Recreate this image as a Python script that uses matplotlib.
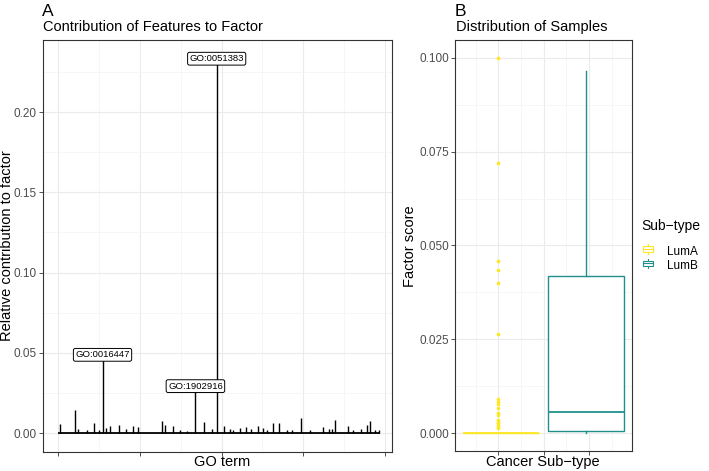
import numpy as np
import matplotlib
matplotlib.use("Agg")
import matplotlib.pyplot as plt
from matplotlib.patches import Rectangle
from matplotlib.lines import Line2D
from matplotlib.legend_handler import HandlerBase
from matplotlib.ticker import MultipleLocator, FixedLocator, NullFormatter

plt.rcParams['font.family'] = ['Liberation Sans', 'DejaVu Sans']

# Panel A data: feature index and contribution (visible spikes)
n_features = 985
feat_idx = [5, 51, 61, 87, 109, 124, 136, 148, 158, 186, 209, 228, 245, 319, 327,
            350, 372, 393, 420, 446, 472, 485, 507, 526, 536, 556, 574, 589, 610,
            628, 638, 656, 677, 699, 714, 743, 770, 811, 827, 837, 848, 888, 901,
            926, 944, 954, 969, 980]
feat_val = [0.0056, 0.0141, 0.0025, 0.0021, 0.0062, 0.0021, 0.0455, 0.0031, 0.0042,
            0.0052, 0.0025, 0.0046, 0.0037, 0.0077, 0.0052, 0.0046, 0.0017, 0.0010,
            0.0260, 0.0069, 0.0025, 0.2300, 0.0046, 0.0025, 0.0021, 0.0031, 0.0037,
            0.0025, 0.0046, 0.0031, 0.0021, 0.0062, 0.0062, 0.0021, 0.0021, 0.0093,
            0.0017, 0.0037, 0.0025, 0.0025, 0.0083, 0.0046, 0.0021, 0.0025, 0.0052,
            0.0073, 0.0021, 0.0017]
top_terms = ['GO:0016447', 'GO:1902916', 'GO:0051383']
top_idx = [136, 420, 485]
top_val = [0.0455, 0.0260, 0.2300]

# Panel B data: box statistics per subtype
subtypes = ['LumA', 'LumB']
sub_colors = ['#FDE725', '#21908C']
box_med = [0.0, 0.0056]
box_q1 = [0.0, 0.0005]
box_q3 = [0.0, 0.0420]
box_lo = [0.0, 0.0]
box_hi = [0.0, 0.0965]
lumA_outliers = [0.1001, 0.0719, 0.0459, 0.0436, 0.0399, 0.0264, 0.0091, 0.0083,
                 0.0077, 0.0066, 0.0053, 0.0048, 0.0035, 0.0030, 0.0027, 0.0021,
                 0.0017, 0.0013]

grid_major = '#EBEBEB'
tick_col = '#4D4D4D'

fig = plt.figure(figsize=(7.09, 4.71), dpi=100)
axA = fig.add_axes([43/709, 1-452/471, (392-43)/709, (452-40)/471])
axB = fig.add_axes([455/709, 1-451/471, (632-455)/709, (451-40)/471])


def style(ax):
    ax.set_axisbelow(True)
    ax.grid(which='major', color=grid_major, lw=0.8)
    ax.grid(which='minor', color='#F3F3F3', lw=0.5)
    for s in ax.spines.values():
        s.set_color('#333333')
        s.set_linewidth(0.8)
    ax.tick_params(which='major', length=3, width=0.6, color='#333333',
                   labelsize=8.5, labelcolor=tick_col, pad=1.5)
    ax.tick_params(which='minor', length=0)


# ---- Panel A ----
style(axA)
axA.hlines(0, 0, n_features, color='black', lw=1.3)
axA.vlines(feat_idx, 0, feat_val, color='black', lw=1.0)
for t, xi, v in zip(top_terms, top_idx, top_val):
    axA.annotate(t, (xi, v), xytext=(0, 0.5), textcoords='offset points',
                 ha='center', va='bottom', fontsize=6.8,
                 bbox=dict(boxstyle='round,pad=0.2,rounding_size=0.2',
                           fc='white', ec='black', lw=0.7))
axA.set_xlim(-46, 1021)
axA.set_ylim(-0.0118, 0.2449)
axA.xaxis.set_major_locator(FixedLocator([0, 250, 500, 750, 1000]))
axA.xaxis.set_minor_locator(FixedLocator([125, 375, 625, 875]))
axA.xaxis.set_major_formatter(NullFormatter())
axA.yaxis.set_major_locator(MultipleLocator(0.05))
axA.yaxis.set_minor_locator(MultipleLocator(0.025))
axA.set_yticklabels([f'{v:.2f}' for v in axA.get_yticks()])
axA.set_ylim(-0.0118, 0.2449)

# ---- Panel B ----
style(axB)
positions = [1.033, 1.967]
stats = []
for i, s in enumerate(subtypes):
    stats.append(dict(med=box_med[i], q1=box_q1[i], q3=box_q3[i],
                      whislo=box_lo[i], whishi=box_hi[i], fliers=[], label=s))
bp = axB.bxp(stats, positions=positions, widths=0.84, showfliers=False,
             showcaps=False, patch_artist=True)
for i, c in enumerate(sub_colors):
    bp['boxes'][i].set(facecolor='white', edgecolor=c, lw=1.0)
    bp['medians'][i].set(color=c, lw=1.3)
    for w in bp['whiskers'][2*i:2*i+2]:
        w.set(color=c, lw=1.0)
axB.scatter([1.0]*len(lumA_outliers), lumA_outliers, s=7, color=sub_colors[0],
            zorder=3, lw=0)
axB.set_xlim(0.523, 2.474)
axB.set_ylim(-0.0048, 0.1048)
axB.xaxis.set_major_locator(FixedLocator([1, 1.5, 2]))
axB.xaxis.set_minor_locator(FixedLocator([0.75, 1.25, 1.75, 2.25]))
axB.xaxis.set_major_formatter(NullFormatter())
axB.yaxis.set_major_locator(MultipleLocator(0.025))
axB.yaxis.set_minor_locator(MultipleLocator(0.0125))
axB.set_yticklabels([f'{v:.3f}' for v in axB.get_yticks()])
axB.set_ylim(-0.0048, 0.1048)

# titles and labels
fig.text(42/709, 1-11/471, 'A', fontsize=12.5, va='center', ha='left')
fig.text(43/709, 1-27/471, 'Contribution of Features to Factor', fontsize=10.5,
         va='center', ha='left')
fig.text(455/709, 1-11/471, 'B', fontsize=12.5, va='center', ha='left')
fig.text(456/709, 1-27/471, 'Distribution of Samples', fontsize=10.5,
         va='center', ha='left')
fig.text(222/709, 1-462/471, 'GO term', fontsize=10.5, ha='center', va='center')
fig.text(543/709, 1-462/471, 'Cancer Sub\u2212type', fontsize=10.5, ha='center',
         va='center')
fig.text(7/709, 1-246/471, 'Relative contribution to factor', fontsize=10.5,
         rotation=90, ha='center', va='center')
fig.text(410/709, 1-246/471, 'Factor score', fontsize=10.5, rotation=90,
         ha='center', va='center')


class BoxKey(HandlerBase):
    def create_artists(self, legend, orig, xd, yd, w, h, fontsize, trans):
        c = orig.get_edgecolor()
        cx = xd + w / 2
        cy = yd + h / 2
        bw, bh = w * 0.9, h * 0.55
        whisk = Line2D([cx, cx], [yd, yd + h], color=c, lw=0.8, transform=trans)
        box = Rectangle((cx - bw / 2, cy - bh / 2), bw, bh, fc='white', ec=c,
                        lw=0.8, transform=trans)
        med = Line2D([cx - bw / 2, cx + bw / 2], [cy, cy], color=c, lw=0.8,
                     transform=trans)
        return [whisk, box, med]


fig.text(641/709, 1-226/471, 'Sub\u2212type', fontsize=10, ha='left', va='center')
handles = [Rectangle((0, 0), 1, 1, fc='white', ec=c) for c in sub_colors]
leg = fig.legend(handles, subtypes, loc='center left',
                 bbox_to_anchor=(632/709, 1-259/471), frameon=False,
                 fontsize=8.5, handlelength=0.9, handleheight=0.9,
                 handletextpad=1.2, labelspacing=0.2,
                 handler_map={Rectangle: BoxKey()})

fig.savefig('out.png', dpi=100)
